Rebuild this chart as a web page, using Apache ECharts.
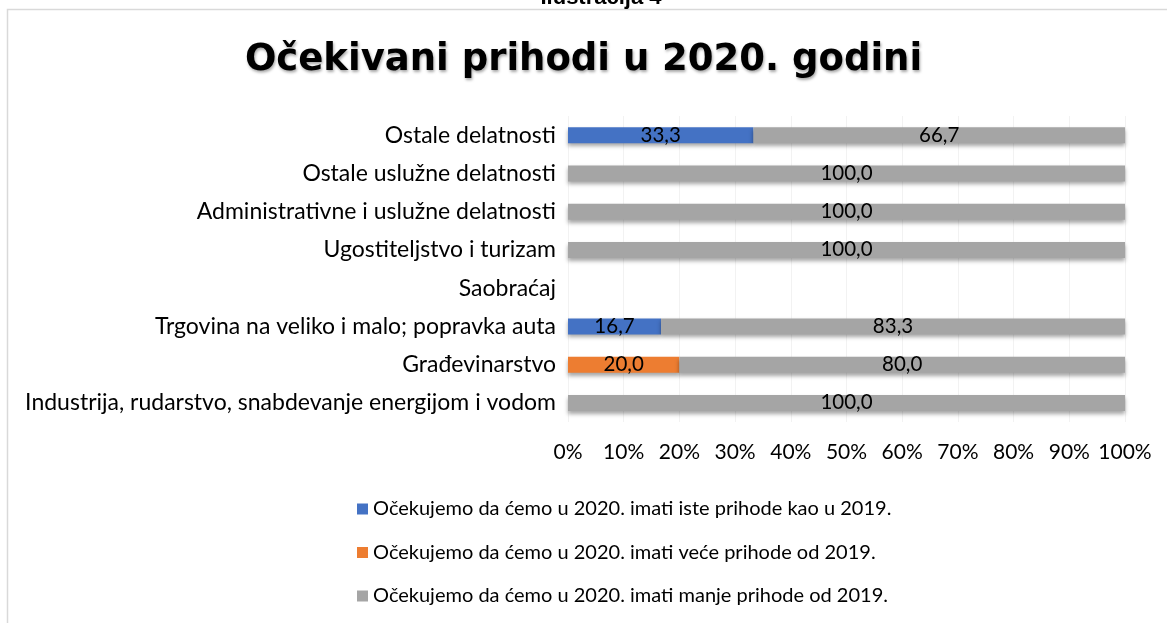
<!DOCTYPE html>
<html>
<head>
<meta charset="utf-8">
<script src="https://cdn.jsdelivr.net/npm/echarts@6/dist/echarts.min.js"></script>
<style>
  html, body { margin: 0; padding: 0; background: #fff; }
  #main { width: 1167px; height: 623px; }
</style>
</head>
<body>
<div id="main"></div>
<script>
// kategorije odozdo nagore (yAxis category ide od dna)
var kategorije = [
  'Industrija, rudarstvo, snabdevanje energijom i vodom',
  'Građevinarstvo',
  'Trgovina na veliko i malo; popravka auta',
  'Saobraćaj',
  'Ugostiteljstvo i turizam',
  'Administrativne i uslužne delatnosti',
  'Ostale uslužne delatnosti',
  'Ostale delatnosti'
];
var isti = [null, null, 16.7, null, null, null, null, 33.3];
var veci = [null, 20.0, null, null, null, null, null, null];
var manji = [100.0, 80.0, 83.3, null, 100.0, 100.0, 100.0, 66.7];
var nazivi = [
  'Očekujemo da ćemo u 2020. imati iste prihode kao u 2019.',
  'Očekujemo da ćemo u 2020. imati veće prihode od 2019.',
  'Očekujemo da ćemo u 2020. imati manje prihode od 2019.'
];
var boje = ['#4472C4', '#ED7D31', '#A5A5A5'];

var font = 'Lato';

function serija(ime, podaci, boja) {
  return {
    name: ime,
    type: 'bar',
    stack: 'ukupno',
    barWidth: 16,
    data: podaci,
    itemStyle: {
      color: boja,
      shadowColor: 'rgba(0,0,0,0.35)',
      shadowBlur: 4,
      shadowOffsetY: 3
    },
    label: {
      show: true,
      position: 'inside',
      color: '#000',
      fontFamily: font,
      fontSize: 20.5,
      formatter: function (p) {
        return p.value == null ? '' : p.value.toFixed(1).replace('.', ',');
      }
    }
  };
}

var myChart = echarts.init(document.getElementById('main'));
var option = {
  animation: false,
  backgroundColor: '#fff',
  title: {
    text: 'Očekivani prihodi u 2020. godini',
    left: 'center',
    top: 37,
    textStyle: {
      fontFamily: 'DejaVu Sans',
      fontWeight: 'bold',
      fontSize: 37,
      color: '#000',
      textShadowColor: 'rgba(0,0,0,0.35)',
      textShadowBlur: 3,
      textShadowOffsetX: 1,
      textShadowOffsetY: 2
    }
  },
  graphic: [
    {
      type: 'rect',
      shape: { x: 7.5, y: 9.5, width: 1200, height: 700 },
      style: { fill: null, stroke: '#d9d9d9', lineWidth: 1.5 },
      silent: true
    },
    {
      type: 'text',
      x: 601,
      y: 9,
      style: {
        text: 'Ilustracija 4',
        fontFamily: 'Liberation Sans',
        fontWeight: 'bold',
        fontSize: 22,
        fill: '#000',
        align: 'center',
        verticalAlign: 'bottom'
      }
    }
  ],
  legend: {
    orient: 'vertical',
    left: 352,
    top: 494,
    itemGap: 23.5,
    itemWidth: 11,
    itemHeight: 11,
    icon: 'rect',
    textStyle: { fontFamily: font, fontSize: 20, color: '#000' },
    data: nazivi
  },
  grid: {
    left: 568,
    right: 42,
    top: 116,
    bottom: 201
  },
  xAxis: {
    type: 'value',
    min: 0,
    max: 100,
    interval: 10,
    axisLine: { show: false },
    axisTick: { show: false },
    axisLabel: {
      formatter: '{value}%',
      fontFamily: font,
      fontSize: 21,
      color: '#000',
      margin: 20
    },
    splitLine: { lineStyle: { color: '#f2f2f2' } }
  },
  yAxis: {
    type: 'category',
    data: kategorije,
    axisLine: { show: false },
    axisTick: { show: false },
    axisLabel: {
      fontFamily: font,
      fontSize: 23,
      color: '#000',
      margin: 12
    }
  },
  series: [
    serija(nazivi[0], isti, boje[0]),
    serija(nazivi[1], veci, boje[1]),
    serija(nazivi[2], manji, boje[2])
  ]
};
myChart.setOption(option);
</script>
</body>
</html>
